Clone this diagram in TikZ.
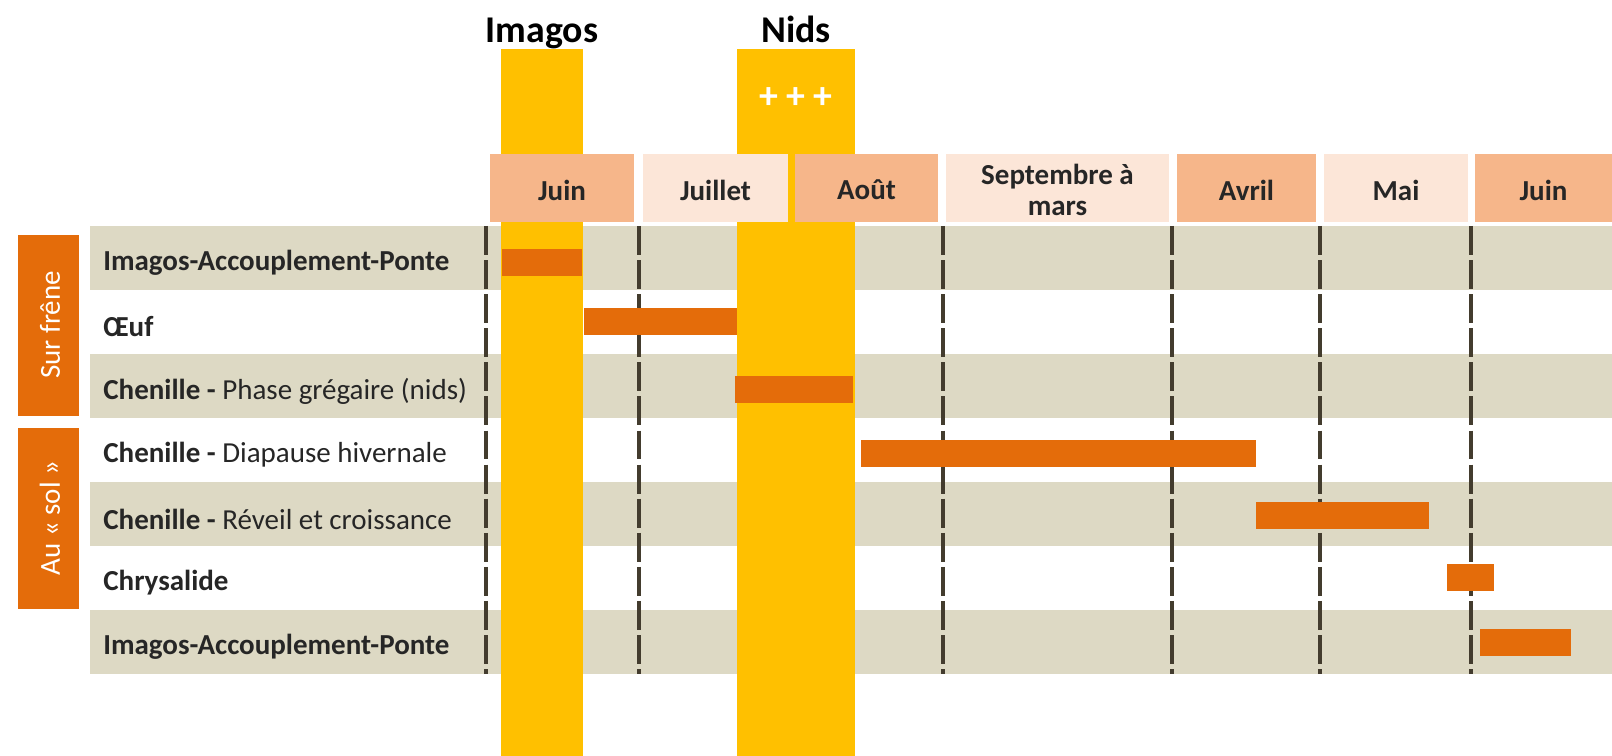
\documentclass[tikz,border=0pt]{standalone}
\usepackage{fontspec}
\setmainfont{Carlito}
\usepackage{tikz}

\definecolor{jauneC}{HTML}{FFC000}
\definecolor{orangeC}{HTML}{E46C0A}
\definecolor{saumonC}{HTML}{F6B68A}
\definecolor{pecheC}{HTML}{FCE6D8}
\definecolor{grisC}{HTML}{DDD9C4}
\definecolor{traitC}{HTML}{433C2E}
\definecolor{texteC}{HTML}{262626}
\newcommand\taillelbl{\fontsize{16.5pt}{18pt}\selectfont}
\newcommand\tailletitre{\fontsize{21.5pt}{24pt}\selectfont}

\begin{document}
\begin{tikzpicture}[x=0.02cm, y=-0.02cm, every node/.style={font=\taillelbl, inner sep=0pt}]
	\useasboundingbox (0,0) rectangle (1612,756);
	% bandes des lignes
	\foreach \r in {1,3,5,7} {\fill[grisC] (90,{226+64*(\r-1)}) rectangle (1612,{290+64*(\r-1)});}
	\foreach \r/\l in {1/\textbf{Imagos-Accouplement-Ponte}, 2/\textbf{Œuf}, 3/{\textbf{Chenille -} Phase grégaire (nids)}, 4/{\textbf{Chenille -} Diapause hivernale}, 5/{\textbf{Chenille -} Réveil et croissance}, 6/\textbf{Chrysalide}, 7/\textbf{Imagos-Accouplement-Ponte}} {\node[anchor=west, texteC] (stade\r) at (103,{263+64*(\r-1)}) {\l};}
	% separations des mois
	\foreach \x in {486,639,791,943,1172,1320,1471} {\draw[traitC, line width=2.3pt, dash pattern=on 16.5pt off 2.9pt] (\x,226) -- (\x,674);}
	% periodes imagos et nids
	\fill[jauneC] (501,49) rectangle (583,756);
	\fill[jauneC] (737,49) rectangle (855,756);
	\node[font=\tailletitre\bfseries, anchor=base] (imagos) at (542,43) {Imagos};
	\node[font=\tailletitre\bfseries, anchor=base] (nids) at (796,43) {Nids};
	\node[font=\tailletitre\bfseries, white] (plus) at (796,98) {+ + +};
	% en-tete des mois
	\foreach \a/\b/\c/\t [count=\i] in {490/634/saumonC/Juin, 643/788/pecheC/Juillet, 795/938/saumonC/Août, 946/1169/pecheC/{Septembre à\\mars}, 1177/1316/saumonC/Avril, 1324/1468/pecheC/Mai, 1475/1612/saumonC/Juin} {\fill[\c] (\a,154) rectangle (\b,222); \node[align=center, font=\taillelbl\bfseries, texteC] (mois\i) at ({(\a+\b)/2},190) {\t};}
	% durees des stades
	\foreach \a/\b/\y in {502/582/249, 584/737/308, 735/853/376, 861/1256/440, 1256/1429/502, 1447/1494/564, 1480/1571/629} {\fill[orangeC] (\a,\y) rectangle (\b,{\y+27});}
	% sur frene / au sol
	\fill[orangeC] (18,235) rectangle (79,416);
	\node[white, rotate=90] (frene) at (50,325) {Sur frêne};
	\fill[orangeC] (18,428) rectangle (79,609);
	\node[white, rotate=90] (sol) at (50,518) {Au « sol »};
\end{tikzpicture}
\end{document}
